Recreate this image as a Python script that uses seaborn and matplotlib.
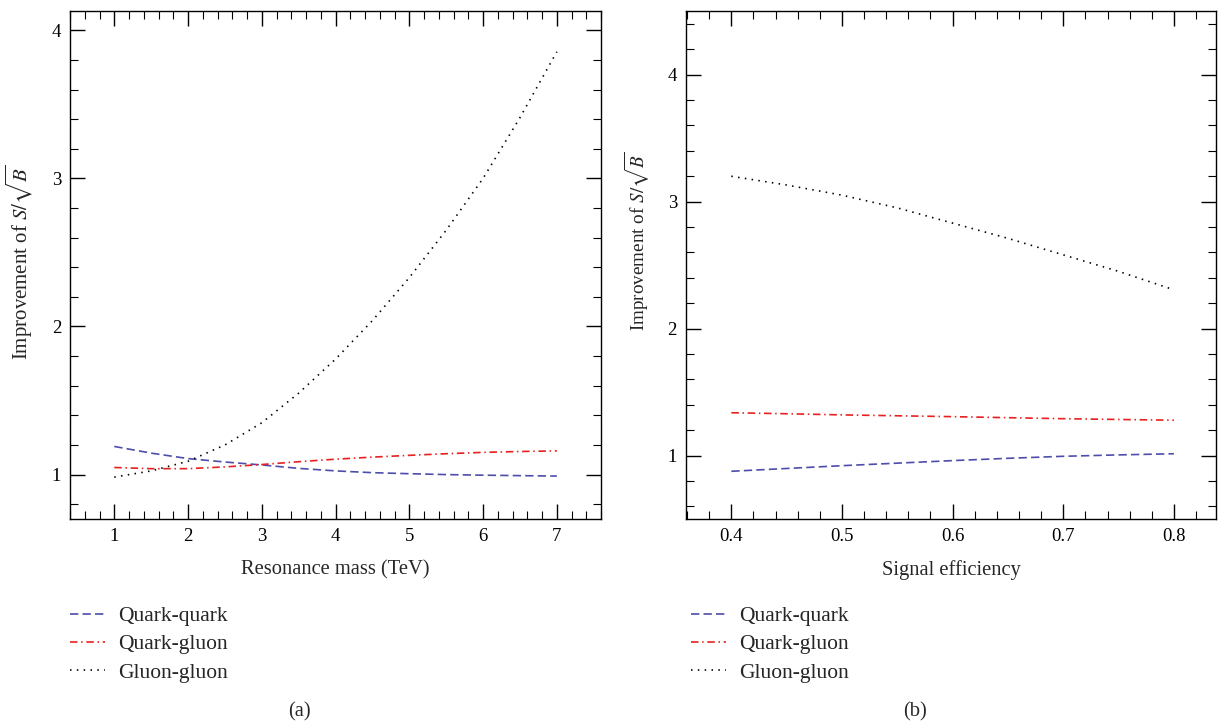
import numpy as np
import pandas as pd
import matplotlib
matplotlib.use("Agg")
import matplotlib.pyplot as plt
import seaborn as sns
from matplotlib.ticker import MultipleLocator

# values
mass_tev = [1, 1.5, 2, 2.5, 3, 3.5, 4, 4.5, 5, 5.5, 6, 6.5, 7]
qq_mass = [1.19, 1.145, 1.108, 1.085, 1.065, 1.042, 1.025, 1.013, 1.006, 1.0, 0.996, 0.993, 0.99]
qg_mass = [1.048, 1.04, 1.04, 1.052, 1.068, 1.087, 1.104, 1.118, 1.13, 1.141, 1.15, 1.156, 1.16]
gg_mass = [0.983, 1.025, 1.09, 1.2, 1.35, 1.55, 1.78, 2.04, 2.33, 2.65, 3.0, 3.41, 3.855]

sig_eff = [0.4, 0.45, 0.5, 0.55, 0.6, 0.65, 0.7, 0.75, 0.8]
qq_eff = [0.876, 0.898, 0.92, 0.94, 0.96, 0.978, 0.994, 1.005, 1.014]
qg_eff = [1.337, 1.329, 1.32, 1.313, 1.306, 1.298, 1.29, 1.284, 1.278]
gg_eff = [3.199, 3.13, 3.05, 2.95, 2.83, 2.71, 2.58, 2.45, 2.305]

labels = ["Quark-quark", "Quark-gluon", "Gluon-gluon"]

sns.set_theme(style="ticks")
plt.rcParams["font.family"] = ["Liberation Serif", "DejaVu Serif"]
plt.rcParams["mathtext.fontset"] = "stix"
plt.rcParams["axes.linewidth"] = 1.0

TICK_FS = 13.5
LAB_FS = 14.8
LEG_FS = 15.5
styles = [
    dict(color="#4d4dab", linestyle=(0, (5, 2.5))),
    dict(color="#e82020", linestyle=(0, (4.5, 2.2, 0.9, 2.2))),
    dict(color="black", linestyle=(0, (0.9, 3.2))),
]

fig = plt.figure(figsize=(12.18, 7.25), dpi=100)
ax1 = fig.add_axes([0.0575, 0.2841, 0.436, 0.7007])
ax2 = fig.add_axes([0.5632, 0.2841, 0.4351, 0.7007])


def draw(ax, x, series, xlabel, ylab_fs, ylab_y):
    for y, lab, st in zip(series, labels, styles):
        df = pd.DataFrame({"x": x, "y": y})
        sns.lineplot(data=df, x="x", y="y", ax=ax, label=lab, legend=False,
                     linewidth=1.2, **st)
    ax.set_xlabel(xlabel, fontsize=LAB_FS, labelpad=11)
    ax.set_ylabel(r"Improvement of $S/\sqrt{B}$", fontsize=ylab_fs, labelpad=12)
    ax.yaxis.label.set_y(ylab_y)
    ax.tick_params(which="both", direction="in", top=True, right=True,
                   labelsize=TICK_FS, colors="black")
    ax.tick_params(which="major", length=11, width=1.0, pad=6.5)
    ax.tick_params(which="minor", length=5.5, width=0.8)
    ax.yaxis.set_major_locator(MultipleLocator(1))
    ax.yaxis.set_minor_locator(MultipleLocator(0.2))
    for s in ax.spines.values():
        s.set_color("black")


draw(ax1, mass_tev, [qq_mass, qg_mass, gg_mass], "Resonance mass (TeV)", 15.0, 0.506)
ax1.set_xlim(0.4, 7.6)
ax1.set_ylim(0.7, 4.13)
ax1.xaxis.set_major_locator(MultipleLocator(1))
ax1.xaxis.set_minor_locator(MultipleLocator(0.2))

draw(ax2, sig_eff, [qq_eff, qg_eff, gg_eff], "Signal efficiency", 13.8, 0.547)
ax2.set_xlim(0.359, 0.838)
ax2.set_ylim(0.5, 4.5)
ax2.xaxis.set_major_locator(MultipleLocator(0.1))
ax2.xaxis.set_minor_locator(MultipleLocator(0.02))

for ax, x0 in [(ax1, 70 / 1218), (ax2, 691 / 1218)]:
    h, l = ax.get_legend_handles_labels()
    fig.legend(h, l, loc="upper left", bbox_to_anchor=(x0, 1 - 606 / 725),
               frameon=False, fontsize=LEG_FS, borderpad=0, borderaxespad=0,
               handlelength=1.63, handletextpad=0.6, labelspacing=0.38)

fig.text(299 / 1218, 1 - 712 / 725, "(a)", ha="center", va="center", fontsize=LAB_FS)
fig.text(915 / 1218, 1 - 712 / 725, "(b)", ha="center", va="center", fontsize=LAB_FS)

fig.savefig("out.png", dpi=100)
